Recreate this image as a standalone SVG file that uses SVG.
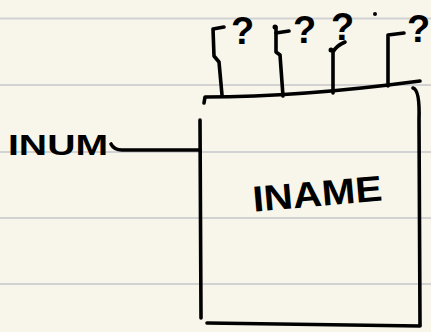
<svg xmlns="http://www.w3.org/2000/svg" width="431" height="332" viewBox="0 0 431 332">
<style>
.ink{fill:none;stroke:#000;stroke-width:3.6;stroke-linecap:round;stroke-linejoin:round}
.rule{stroke:#d2d2d2;stroke-width:2}
.t{font-family:"Liberation Sans",Arial,sans-serif;fill:#000;font-weight:bold}
.q{font-family:"Liberation Sans",Arial,sans-serif;fill:#000;font-weight:bold;font-size:38px}
.dot{fill:#000}
</style>
<rect width="431" height="332" fill="#f8f6eb"/>
<g id="ruling">
<line class="rule" x1="0" y1="18.5" x2="431" y2="18.5"/>
<line class="rule" x1="0" y1="85" x2="431" y2="85"/>
<line class="rule" x1="0" y1="152" x2="431" y2="152"/>
<line class="rule" x1="0" y1="218" x2="431" y2="218"/>
<line class="rule" x1="0" y1="284" x2="431" y2="284"/>
</g>
<g id="entity-iname">
<path class="ink" d="M204,103 L205,97 Q300,97 420,81"/>
<path class="ink" d="M200,120 L201,318"/>
<path class="ink" d="M413,88 Q420,90 419,120 L420,325"/>
<path class="ink" d="M207,323 Q300,324 420,326"/>
<text class="t" x="252" y="206" font-size="36" transform="rotate(-5 318 190)" textLength="130" lengthAdjust="spacingAndGlyphs">INAME</text>
</g>
<g id="connectors">
<path class="ink" d="M111,144 Q114,150 122,150 L200,150"/>
<path class="ink" d="M222,95 L219,62 L214,56 L213,29 L224,27"/>
<path class="ink" d="M283,96 L280,55 L276,52 L276,27"/>
<path class="ink" d="M276,33 L289,31"/>
<path class="ink" d="M333,93 L333,52 Q336,46 345,42"/>
<path class="ink" d="M388,86 L388,35 L404,33"/>
</g>
<g id="attr-inum">
<text class="t" x="8" y="155" font-size="30" textLength="100" lengthAdjust="spacingAndGlyphs">INUM</text>
</g>
<g id="attr-1">
<text class="q" x="231" y="44">?</text>
</g>
<g id="attr-2">
<circle class="dot" cx="275" cy="27" r="2.5"/>
<text class="q" x="293" y="43">?</text>
</g>
<g id="attr-3">
<circle class="dot" cx="331" cy="50" r="2.5"/>
<text class="q" x="331" y="40">?</text>
</g>
<circle class="dot" cx="375" cy="14" r="2"/>
<g id="attr-4">
<text class="q" x="407" y="42">?</text>
</g>
</svg>
